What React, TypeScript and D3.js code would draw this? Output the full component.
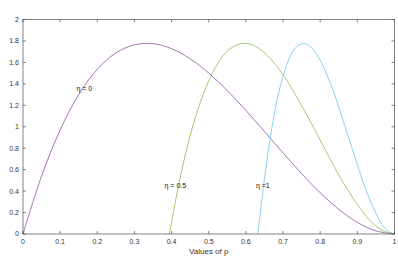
import { useEffect, useRef } from 'react';
import * as d3 from 'd3';

// curve samples (p, density)
const xEta0 = [0, 0.05, 0.1, 0.15, 0.2, 0.25, 0.3, 0.35, 0.4, 0.45, 0.5, 0.55, 0.6, 0.65, 0.7, 0.75, 0.8, 0.85, 0.9, 0.95, 1];
const xEta05 = [0.394, 0.424, 0.454, 0.485, 0.515, 0.545, 0.576, 0.606, 0.636, 0.666, 0.697, 0.727, 0.757, 0.788, 0.818, 0.848, 0.879, 0.909, 0.939, 0.970, 1];
const xEta1 = [0.632, 0.651, 0.669, 0.687, 0.706, 0.724, 0.743, 0.761, 0.779, 0.798, 0.816, 0.835, 0.853, 0.871, 0.890, 0.908, 0.926, 0.945, 0.963, 0.982, 1];
const yShape = [0, 0.54, 0.97, 1.30, 1.536, 1.688, 1.764, 1.775, 1.728, 1.634, 1.5, 1.337, 1.152, 0.956, 0.756, 0.563, 0.384, 0.23, 0.108, 0.029, 0];

const series = [
  { name: 'η = 0', xs: xEta0, color: '#7E2F8E' },
  { name: 'η = 0.5', xs: xEta05, color: '#77AC30' },
  { name: 'η = 1', xs: xEta1, color: '#4DBEEE' },
];

const xTicks = [0, 0.1, 0.2, 0.3, 0.4, 0.5, 0.6, 0.7, 0.8, 0.9, 1];
const yTicks = [0, 0.2, 0.4, 0.6, 0.8, 1, 1.2, 1.4, 1.6, 1.8, 2];

// text labels placed on the curves
const labels = [
  { text: 'η = 0', p: 0.144, v: 1.36 },
  { text: 'η = 0.5', p: 0.381, v: 0.45 },
  { text: 'η =1', p: 0.627, v: 0.45 },
];

export default function App() {
  const svgRef = useRef<SVGSVGElement>(null);
  const width = 398;
  const height = 263;

  useEffect(() => {
    if (!svgRef.current) return;
    const svg = d3.select(svgRef.current);
    svg.selectAll('*').remove();

    const left = 23, right = 394.5, top = 19.5, bottom = 234;
    const x = d3.scaleLinear().domain([0, 1]).range([left, right]);
    const y = d3.scaleLinear().domain([0, 2]).range([bottom, top]);

    const axisColor = '#4d4d4d';
    const font = 'Liberation Sans, Arial, sans-serif';

    const g = svg.append('g');

    const line = d3.line<[number, number]>()
      .x(d => x(d[0]))
      .y(d => y(d[1]))
      .curve(d3.curveCatmullRom);

    series.forEach(s => {
      const pts = s.xs.map((px, i) => [px, yShape[i]] as [number, number]);
      g.append('path')
        .attr('d', line(pts)!)
        .attr('fill', 'none')
        .attr('stroke', s.color)
        .attr('stroke-width', 0.8)
        .attr('opacity', 0.85);
    });

    // box
    g.append('rect')
      .attr('x', left).attr('y', top)
      .attr('width', right - left).attr('height', bottom - top)
      .attr('fill', 'none').attr('stroke', axisColor).attr('stroke-width', 0.7);

    const tl = 3;
    xTicks.forEach(t => {
      g.append('line').attr('x1', x(t)).attr('x2', x(t)).attr('y1', bottom).attr('y2', bottom - tl)
        .attr('stroke', axisColor).attr('stroke-width', 0.7);
      g.append('line').attr('x1', x(t)).attr('x2', x(t)).attr('y1', top).attr('y2', top + tl)
        .attr('stroke', axisColor).attr('stroke-width', 0.7);
      g.append('text').attr('x', x(t)).attr('y', bottom + 10)
        .attr('text-anchor', 'middle').attr('font-size', 7).attr('font-family', font)
        .attr('fill', '#333').text(String(t));
    });
    yTicks.forEach(t => {
      g.append('line').attr('x1', left).attr('x2', left + tl).attr('y1', y(t)).attr('y2', y(t))
        .attr('stroke', axisColor).attr('stroke-width', 0.7);
      g.append('line').attr('x1', right).attr('x2', right - tl).attr('y1', y(t)).attr('y2', y(t))
        .attr('stroke', axisColor).attr('stroke-width', 0.7);
      g.append('text').attr('x', left - 4).attr('y', y(t)).attr('dy', '0.35em')
        .attr('text-anchor', 'end').attr('font-size', 7).attr('font-family', font)
        .attr('fill', '#333').text(String(t));
    });

    g.append('text').attr('x', x(0.5)).attr('y', 254)
      .attr('text-anchor', 'middle').attr('font-size', 8).attr('font-family', font)
      .attr('fill', '#333').text('Values of p');

    labels.forEach(l => {
      g.append('text').attr('x', x(l.p)).attr('y', y(l.v)).attr('dy', '0.35em')
        .attr('font-size', 7).attr('font-family', font)
        .attr('fill', '#111').text(l.text);
    });
  }, []);

  return (
    <svg
      ref={svgRef}
      width={width}
      height={height}
      style={{ position: 'absolute', left: 0, top: 0, background: '#fff' }}
    />
  );
}
